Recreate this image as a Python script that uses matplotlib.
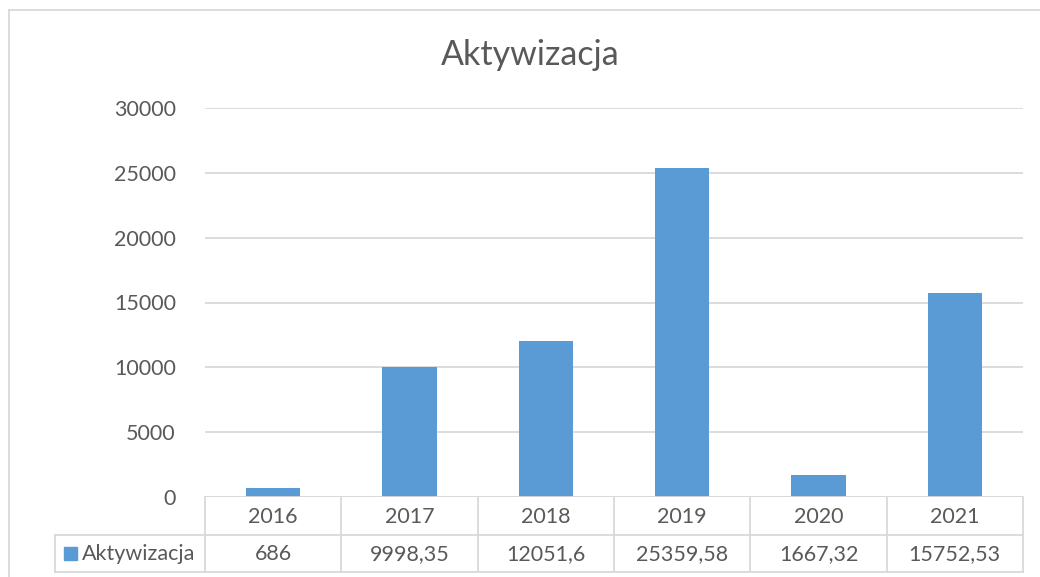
import matplotlib
matplotlib.use("Agg")
import matplotlib.pyplot as plt
from matplotlib.lines import Line2D
from matplotlib.patches import Rectangle
from matplotlib.transforms import blended_transform_factory

years = ["2016", "2017", "2018", "2019", "2020", "2021"]
values = [686, 9998.35, 12051.6, 25359.58, 1667.32, 15752.53]
value_labels = ["686", "9998,35", "12051,6", "25359,58", "1667,32", "15752,53"]
series_name = "Aktywizacja"
yticks = [0, 5000, 10000, 15000, 20000, 25000, 30000]

W, H = 1040, 577
BAR = "#5B9BD5"
TXT = "#595959"
GRID = "#D9D9D9"
FS = 15.5
plt.rcParams["font.family"] = ["Lato", "DejaVu Sans"]

fig = plt.figure(figsize=(W / 100, H / 100), dpi=100)


def fx(px):
    return px / W


def fy(py):
    return 1 - py / H


# plot area in pixels
left, right, top, bottom = 205, 1023, 108, 497
ax = fig.add_axes([fx(left), fy(bottom), fx(right - left), (bottom - top) / H])
x = list(range(len(years)))
ax.bar(x, values, width=0.4, color=BAR, zorder=3)
ax.set_xlim(-0.5, len(years) - 0.5)
ax.set_ylim(0, 30000)
ax.set_yticks(yticks)
ax.set_yticklabels([str(t) for t in yticks], fontsize=FS, color=TXT)
ax.tick_params(axis="y", length=0, pad=21)
ax.set_xticks([])
ax.grid(axis="y", color=GRID, linewidth=1.3, zorder=0)
for s in ax.spines.values():
    s.set_visible(False)
ax.axhline(0, color=GRID, linewidth=1.3, zorder=4)

fig.text(0.51, fy(55), series_name, ha="center", va="center", fontsize=24.5, color=TXT)

# data table under the axis
row1, row2, row3 = 497, 535, 572
legend_left = 55
tr = blended_transform_factory(ax.transData, fig.transFigure)
for i in range(len(years) + 1):
    fig.add_artist(Line2D([i - 0.5, i - 0.5], [fy(row1), fy(row3)], transform=tr,
                          color=GRID, linewidth=1.3))
for r in (row2, row3):
    fig.add_artist(Line2D([fx(legend_left), fx(right)], [fy(r), fy(r)],
                          color=GRID, linewidth=1.3))
fig.add_artist(Line2D([fx(legend_left), fx(legend_left)], [fy(row2), fy(row3)],
                      color=GRID, linewidth=1.3))
for i, (yr, lab) in enumerate(zip(years, value_labels)):
    fig.text(i, fy((row1 + row2) / 2 + 1), yr, transform=tr, ha="center", va="center",
             fontsize=FS, color=TXT)
    fig.text(i, fy((row2 + row3) / 2 + 1), lab, transform=tr, ha="center", va="center",
             fontsize=FS, color=TXT)
fig.add_artist(Rectangle((fx(64), fy(560)), fx(13), 13 / H, color=BAR))
fig.text(fx(82), fy((row2 + row3) / 2 + 1), series_name, ha="left", va="center",
         fontsize=FS, color=TXT)

# chart frame
fig.add_artist(Line2D([fx(9), fx(9)], [fy(10), 0], color=GRID, linewidth=1.3))
fig.add_artist(Line2D([fx(9), 1], [fy(10), fy(10)], color=GRID, linewidth=1.3))

fig.savefig("out.png", dpi=100)
